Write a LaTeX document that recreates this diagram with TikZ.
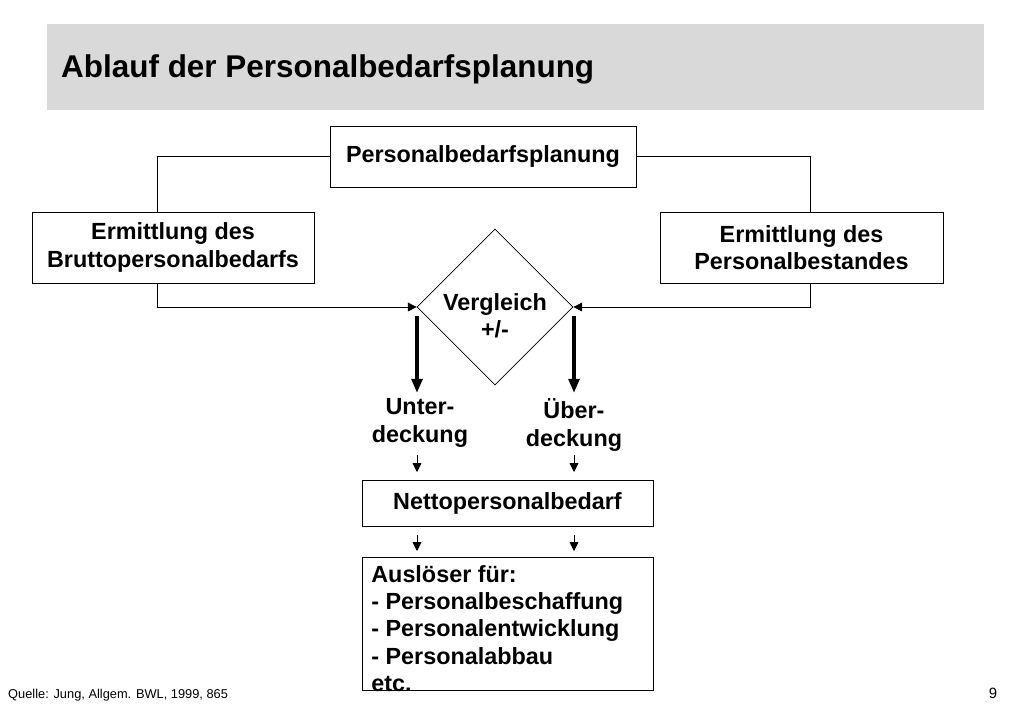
\documentclass[tikz,border=0pt]{standalone}
\usepackage{fontspec}
\setmainfont{Liberation Sans}
\usetikzlibrary{positioning, arrows.meta, shapes.geometric}
\tikzset{
  txt/.style={font=\bfseries\fontsize{13.3}{15.5}\selectfont, align=center},
  box/.style={draw, txt, inner sep=0pt},
  link/.style={draw, thin},
  tip/.style={-{Triangle[length=5pt,width=5pt]}, thin},
  bigtip/.style={-{Triangle[length=8pt,width=6pt]}, line width=2pt}
}
\begin{document}
\begin{tikzpicture}[x=0.02cm, y=-0.02cm]
  \useasboundingbox (0,0) rectangle (1023,708);
  \fill[gray!30] (47,24) rectangle (984,110);
  \node[anchor=west, font=\bfseries\fontsize{17.9}{20}\selectfont] (title) at (55,69) {Ablauf der Personalbedarfsplanung};

  \node[box, minimum width=306*0.02cm, minimum height=61*0.02cm] (plan) at (483,156.5) {Personalbedarfsplanung};
  \node[box, minimum width=282*0.02cm, minimum height=71*0.02cm] (brutto) at (173,247.5) {Ermittlung des\\Bruttopersonalbedarfs};
  \node[box, minimum width=283*0.02cm, minimum height=71*0.02cm] (bestand) at (801.5,247.5) {Ermittlung des\\Personalbestandes};
  \node[box, diamond, minimum width=156*0.02cm, minimum height=156*0.02cm] (vgl) at (495,307) {};
  \node[txt] (vgltxt) at (495,316) {Vergleich\\+/-};

  \coordinate (bl) at (157,305);
  \coordinate (br) at (810,305);
  \draw[link] (plan.west) -| (brutto.north -| bl);
  \draw[link] (plan.east) -| (bestand.north -| br);
  \draw[tip] (brutto.south -| bl) |- (vgl.west);
  \draw[tip] (bestand.south -| br) |- (vgl.east);

  \node[txt] (unter) at (420,423) {Unter-\\deckung};
  \node[txt] (ueber) at (574,425) {Über-\\deckung};
  \coordinate (ua) at (417,316);
  \coordinate (oa) at (574,316);
  \draw[bigtip] (ua) -- (417,393);
  \draw[bigtip] (oa) -- (574,393);

  \node[box, minimum width=291*0.02cm, minimum height=46*0.02cm] (netto) at (507.5,503) {Nettopersonalbedarf};
  \draw[tip] (417,455) -- (417,472);
  \draw[tip] (574,455) -- (574,472);
  \draw[tip] (417,535) -- (417,551);
  \draw[tip] (574,535) -- (574,551);

  \draw (362,557) rectangle (653,690);
  \node[txt, align=left, anchor=north west, inner sep=0pt] (ausl) at (371,565)
    {Auslöser für:\\- Personalbeschaffung\\- Personalentwicklung\\- Personalabbau\\etc.};

  \node[anchor=west, font=\fontsize{7.3}{8}\selectfont] (quelle) at (2,695) {Quelle: Jung, Allgem. BWL, 1999, 865};
  \node[font=\fontsize{8.5}{9}\selectfont] (page) at (993,693) {9};
\end{tikzpicture}
\end{document}
